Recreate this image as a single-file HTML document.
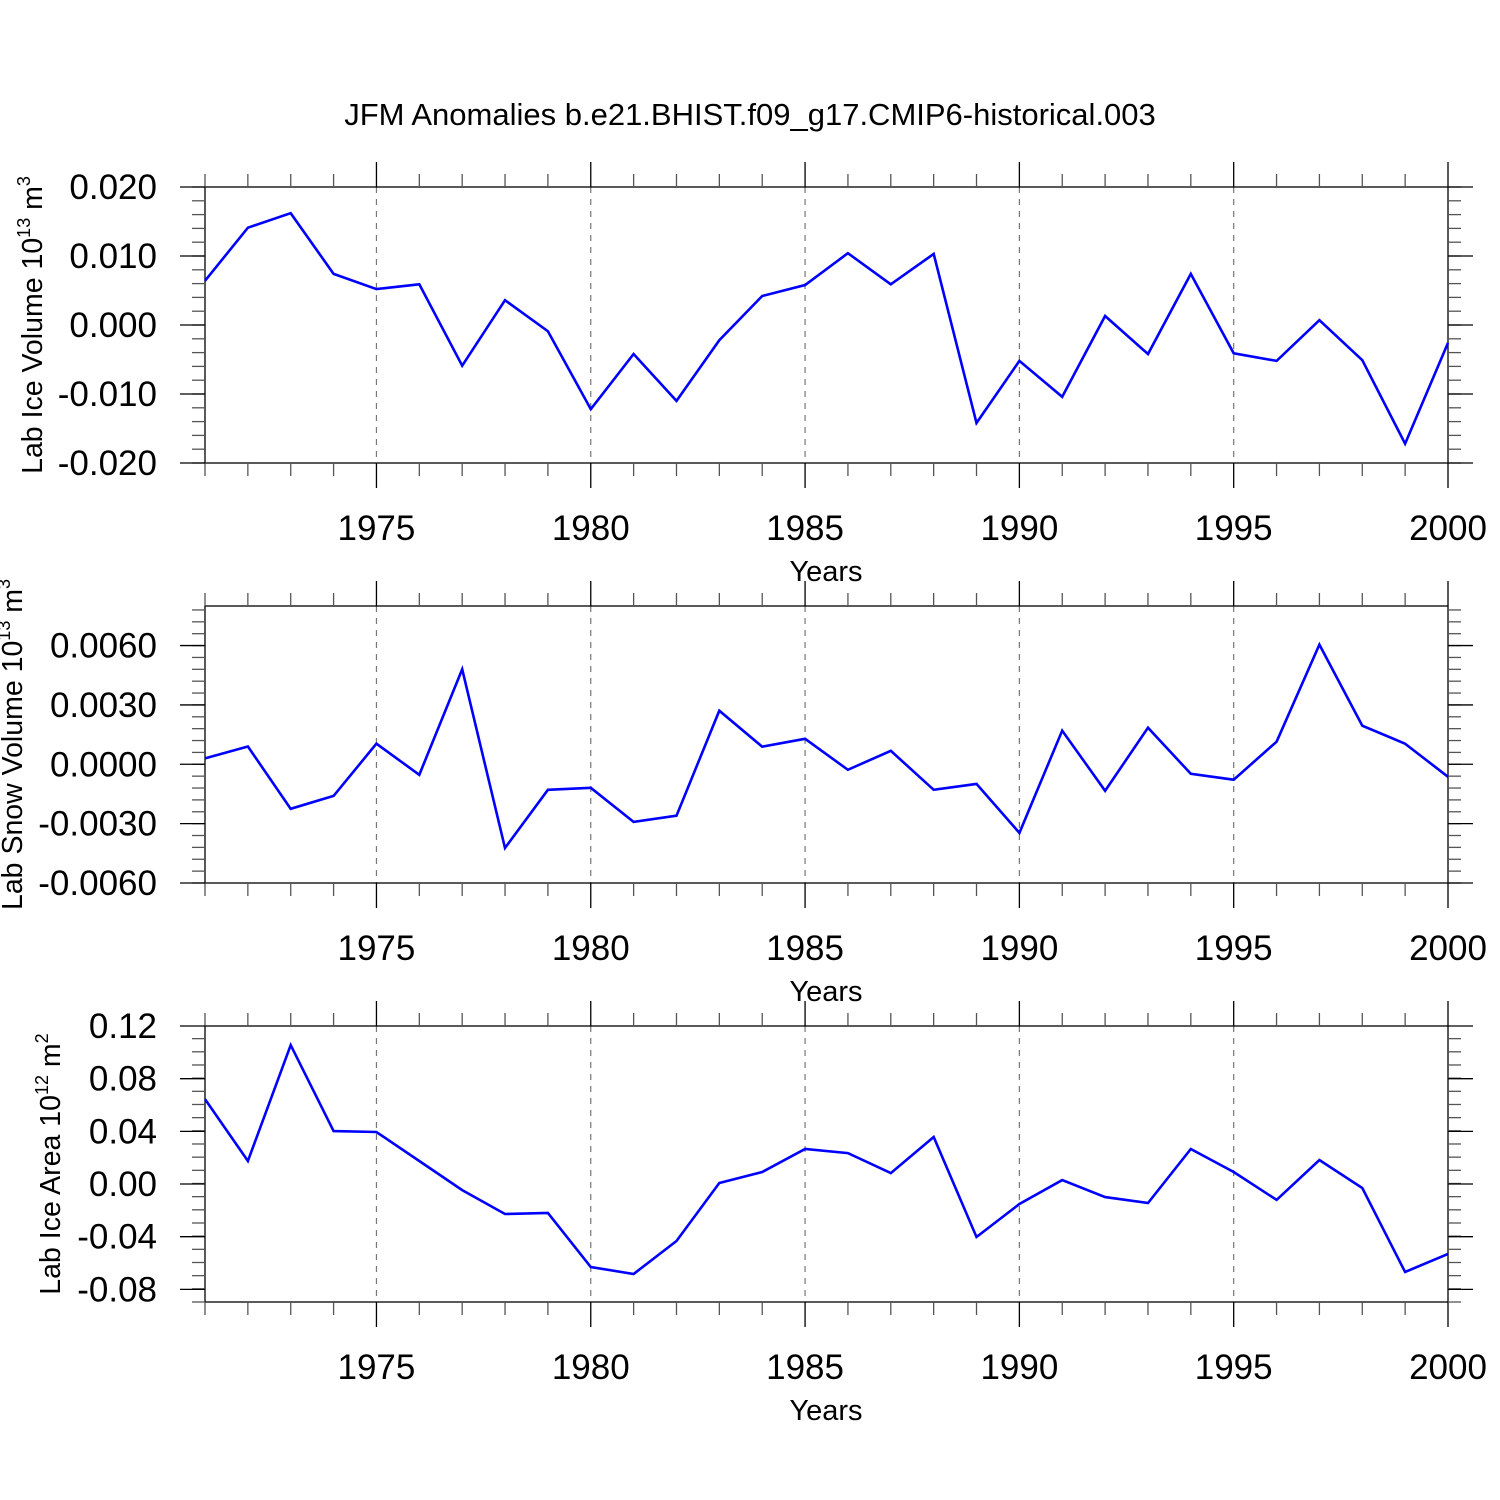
<!DOCTYPE html>
<html><head><meta charset="utf-8"><style>
html,body{margin:0;padding:0;background:#fff;}
svg{display:block;font-family:"Liberation Sans",sans-serif;}
</style></head><body>
<svg id="chart" width="1500" height="1500" viewBox="0 0 1500 1500" xmlns="http://www.w3.org/2000/svg">
<rect width="1500" height="1500" fill="#fff"/>
<text x="750" y="125" font-size="31" text-anchor="middle">JFM Anomalies b.e21.BHIST.f09_g17.CMIP6-historical.003</text>
</svg>
<script>
const years = [1971,1972,1973,1974,1975,1976,1977,1978,1979,1980,1981,1982,1983,1984,1985,1986,1987,1988,1989,1990,1991,1992,1993,1994,1995,1996,1997,1998,1999,2000];
const iceVolume = [0.0064,0.0141,0.0162,0.0074,0.0052,0.0059,-0.0059,0.0036,-0.0009,-0.0122,-0.0042,-0.0110,-0.0022,0.0042,0.0058,0.0104,0.0059,0.0103,-0.0142,-0.0052,-0.0104,0.0013,-0.0042,0.0074,-0.0041,-0.0052,0.0007,-0.0051,-0.0172,-0.0026];
const snowVolume = [0.0003,0.0009,-0.00225,-0.0016,0.00104,-0.00053,0.0048,-0.00423,-0.00129,-0.00119,-0.00291,-0.0026,0.00271,0.00089,0.00129,-0.00028,0.00068,-0.00129,-0.00099,-0.00347,0.0017,-0.00134,0.00185,-0.00048,-0.00078,0.00114,0.00605,0.00195,0.00104,-0.00063];
const iceArea = [0.0645,0.0175,0.1055,0.0402,0.0395,0.0175,-0.0046,-0.0228,-0.022,-0.063,-0.0683,-0.0433,0.0008,0.0091,0.0266,0.0235,0.0083,0.0357,-0.0402,-0.0152,0.003,-0.0099,-0.0144,0.0266,0.0091,-0.0121,0.0182,-0.003,-0.0668,-0.0531];
const xTicks = [1975,1980,1985,1990,1995,2000];
const ticks1 = [0.02,0.01,0,-0.01,-0.02];
const ticks1Labels = ["0.020","0.010","0.000","-0.010","-0.020"];
const ticks2 = [0.006,0.003,0,-0.003,-0.006];
const ticks2Labels = ["0.0060","0.0030","0.0000","-0.0030","-0.0060"];
const ticks3 = [0.12,0.08,0.04,0,-0.04,-0.08];
const ticks3Labels = ["0.12","0.08","0.04","0.00","-0.04","-0.08"];

const NS = "http://www.w3.org/2000/svg";
const svg = document.getElementById('chart');
const L = 205, R = 1448;
function xs(y){ return L + (y - 1971) * (R - L) / (2000 - 1971); }
function mk(tag, attrs, parent){
  const e = document.createElementNS(NS, tag);
  for (const k in attrs) e.setAttribute(k, attrs[k]);
  (parent || svg).appendChild(e);
  return e;
}
function panel(cfg){
  const g = mk('g', {});
  
  
  const ys = v => cfg.top + (cfg.ymax - v) * (cfg.bot - cfg.top) / (cfg.ymax - cfg.ymin);
  xTicks.slice(0,5).forEach(t => {
    const l = mk('line', {x1:xs(t), x2:xs(t), y1:cfg.top, y2:cfg.bot, stroke:'#777', 'stroke-width':1.2, 'stroke-dasharray':'6,6'}, g);
    
    
  });
  const f = mk('rect', {x:L, y:cfg.top, width:R-L, height:cfg.bot-cfg.top, fill:'none', stroke:'#000', 'stroke-width':1.3}, g);
  
  
  years.forEach(y => {
    const major = xTicks.includes(y);
    const len = major ? 25 : 13;
    const c = major ? '#000' : '#555';
    mk('line', {x1:xs(y), x2:xs(y), y1:cfg.top, y2:cfg.top-len, stroke:c, 'stroke-width':1.3}, g);
    mk('line', {x1:xs(y), x2:xs(y), y1:cfg.bot, y2:cfg.bot+len, stroke:c, 'stroke-width':1.3}, g);
  });
  xTicks.forEach(t => {
    const tx = mk('text', {x:xs(t), y:cfg.bot+77, 'font-size':35, 'text-anchor':'middle'}, g);
    
    
    tx.textContent = t;
  });
  const xt = mk('text', {x:826, y:cfg.bot+118, 'font-size':29, 'text-anchor':'middle'}, g);
  
  
  xt.textContent = 'Years';
  const n = Math.round((cfg.ymax - cfg.ymin) / cfg.minor);
  for (let i = 0; i <= n + 1; i++){
    const v = cfg.ymin + i * cfg.minor;
    if (v > cfg.ymax + 1e-9) break;
    const py = ys(v);
    mk('line', {x1:L, x2:L-13, y1:py, y2:py, stroke:'#555', 'stroke-width':1.3}, g);
    mk('line', {x1:R, x2:R+13, y1:py, y2:py, stroke:'#555', 'stroke-width':1.3}, g);
  }
  cfg.ticks.forEach((v, i) => {
    const py = ys(v);
    mk('line', {x1:L-25, x2:L, y1:py, y2:py, stroke:'#000', 'stroke-width':1.3}, g);
    mk('line', {x1:R, x2:R+25, y1:py, y2:py, stroke:'#000', 'stroke-width':1.3}, g);
    const tx = mk('text', {x:157, y:py+12, 'font-size':35, 'text-anchor':'end'}, g);
    
    
    tx.textContent = cfg.labels[i];
  });
  const yt = mk('text', {transform:`translate(${cfg.titleX},${(cfg.top+cfg.bot)/2}) rotate(-90)`, 'font-size':28.5, 'text-anchor':'middle'}, g);
  
  
  yt.innerHTML = cfg.title + ' 10<tspan font-size="18" dy="-12">' + cfg.exp + '</tspan><tspan dy="12"> m</tspan><tspan font-size="18" dy="-12">' + cfg.pow + '</tspan>';
  const pts = cfg.data.map((v, i) => xs(years[i]).toFixed(1) + ',' + ys(v).toFixed(1)).join(' ');
  const pl = mk('polyline', {points:pts, fill:'none', stroke:'#0000ff', 'stroke-width':2.6, 'stroke-linejoin':'miter'}, g);
  
  
}
panel({name:'ice-volume-panel', top:187, bot:463, ymax:0.02, ymin:-0.02, minor:0.002, ticks:ticks1, labels:ticks1Labels, data:iceVolume, title:'Lab Ice Volume', exp:'13', pow:'3', titleX:42});
panel({name:'snow-volume-panel', top:606, bot:883, ymax:0.008, ymin:-0.006, minor:0.0006, ticks:ticks2, labels:ticks2Labels, data:snowVolume, title:'Lab Snow Volume', exp:'13', pow:'3', titleX:22});
panel({name:'ice-area-panel', top:1026, bot:1302, ymax:0.12, ymin:-0.0896, minor:0.01, ticks:ticks3, labels:ticks3Labels, data:iceArea, title:'Lab Ice Area', exp:'12', pow:'2', titleX:60});
</script>
</body></html>
